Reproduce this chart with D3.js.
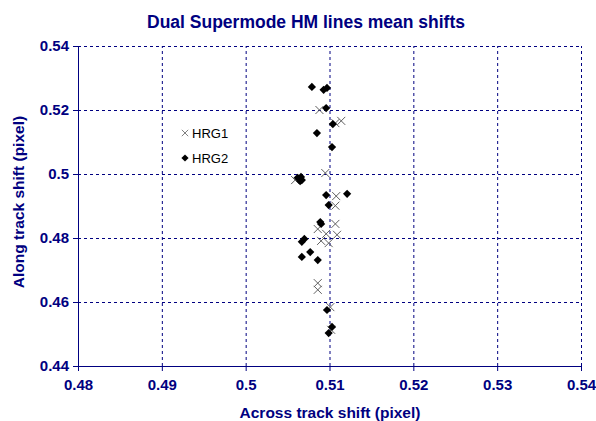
<!DOCTYPE html>
<meta charset="utf-8">
<head>
    <title>Dual Supermode HM lines mean shifts</title>
    <script src="https://cdn.jsdelivr.net/npm/d3@7"></script>
    <style>
        body { margin: 0; background: #fff; }
        text { font-family: Arial, "Liberation Sans", sans-serif; }
        .axis text { font-size: 15px; font-weight: bold; fill: #000080; }
        .axis path, .axis line { stroke: #000080; }
    </style>
</head>
<body>
<div id="chart"></div>
<script>
    // data
    const xTicks = [0.48, 0.49, 0.5, 0.51, 0.52, 0.53, 0.54];
    const yTicks = [0.44, 0.46, 0.48, 0.5, 0.52, 0.54];

    // HRG1 (crosses): [across, along]
    const hrg1 = [
        [0.5088, 0.5200], [0.5107, 0.5159], [0.5114, 0.5166],
        [0.5095, 0.5003], [0.5059, 0.4981], [0.5108, 0.4931],
        [0.5107, 0.4901], [0.5107, 0.4844], [0.5086, 0.4828],
        [0.5096, 0.4813], [0.5109, 0.4810], [0.5090, 0.4791],
        [0.5099, 0.4784], [0.5086, 0.4659], [0.5086, 0.4638],
        [0.5101, 0.4584], [0.5102, 0.4513]
    ];
    // HRG2 (diamonds)
    const hrg2 = [
        [0.5079, 0.5272], [0.5093, 0.5263], [0.5097, 0.5269],
        [0.5096, 0.5206], [0.5104, 0.5156], [0.5085, 0.5128],
        [0.5103, 0.5084], [0.5062, 0.4988], [0.5066, 0.4991],
        [0.5067, 0.4981], [0.5065, 0.4978], [0.5096, 0.4934],
        [0.5121, 0.4938], [0.5099, 0.4903], [0.5089, 0.4850],
        [0.5090, 0.4844], [0.5070, 0.4797], [0.5067, 0.4788],
        [0.5077, 0.4756], [0.5067, 0.4741], [0.5086, 0.4731],
        [0.5097, 0.4575], [0.5103, 0.4522], [0.5099, 0.4503]
    ];

    const width = 596;
    const height = 421;
    const margin = { top: 46, right: 15, bottom: 55, left: 78 };

    const svg = d3.select("#chart").append("svg")
        .attr("width", width)
        .attr("height", height);

    const x = d3.scaleLinear().domain([0.48, 0.54]).range([margin.left, width - margin.right]);
    const y = d3.scaleLinear().domain([0.44, 0.54]).range([height - margin.bottom, margin.top]);

    // dashed grid
    const grid = svg.append("g").attr("stroke", "#000080").attr("stroke-dasharray", "3,3");
    grid.selectAll(".gx").data(xTicks.slice(1)).enter().append("line")
        .attr("x1", d => x(d) + 0.5).attr("x2", d => x(d) + 0.5)
        .attr("y1", y(0.44)).attr("y2", y(0.54));
    grid.selectAll(".gy").data(yTicks.slice(1)).enter().append("line")
        .attr("x1", x(0.48)).attr("x2", x(0.54))
        .attr("y1", d => y(d) + 0.5).attr("y2", d => y(d) + 0.5);

    // axes
    svg.append("g")
        .attr("class", "axis")
        .attr("transform", "translate(0," + y(0.44) + ")")
        .call(d3.axisBottom(x).tickValues(xTicks).tickFormat(d3.format("")).tickSize(5).tickSizeOuter(0))
        .call(g => g.selectAll("text").attr("dy", "1.05em"));

    svg.append("g")
        .attr("class", "axis")
        .attr("transform", "translate(" + x(0.48) + ",0)")
        .call(d3.axisLeft(y).tickValues(yTicks).tickFormat(d3.format("")).tickSize(5).tickSizeOuter(0))
        .call(g => g.selectAll("text").attr("x", -9));

    // HRG1 crosses
    const cross = "M-4,-4L4,4M-4,4L4,-4";
    svg.append("g").selectAll("path").data(hrg1).enter().append("path")
        .attr("d", cross)
        .attr("transform", d => "translate(" + x(d[0]) + "," + y(d[1]) + ")")
        .attr("fill", "none").attr("stroke", "#606060").attr("stroke-width", 1);

    // HRG2 diamonds
    const diamond = d3.symbol().type(d3.symbolSquare).size(34);
    svg.append("g").selectAll("path").data(hrg2).enter().append("path")
        .attr("d", diamond)
        .attr("transform", d => "translate(" + x(d[0]) + "," + y(d[1]) + ") rotate(45)")
        .attr("fill", "#000");

    // legend
    const legend = svg.append("g");
    legend.append("path").attr("d", cross)
        .attr("transform", "translate(185,133) scale(0.8)")
        .attr("fill", "none").attr("stroke", "#606060");
    legend.append("text").attr("x", 192).attr("y", 138).attr("font-size", 13).text("HRG1");
    legend.append("path").attr("d", d3.symbol().type(d3.symbolSquare).size(26))
        .attr("transform", "translate(185,158) rotate(45)").attr("fill", "#000");
    legend.append("text").attr("x", 192).attr("y", 163).attr("font-size", 13).text("HRG2");

    // titles
    svg.append("text")
        .attr("x", 306).attr("y", 28)
        .attr("text-anchor", "middle")
        .attr("font-size", 17.5).attr("font-weight", "bold").attr("fill", "#000080")
        .text("Dual Supermode HM lines mean shifts");

    svg.append("text")
        .attr("x", 330).attr("y", 418)
        .attr("text-anchor", "middle")
        .attr("font-size", 15.5).attr("font-weight", "bold").attr("fill", "#000080")
        .text("Across track shift (pixel)");

    svg.append("text")
        .attr("transform", "translate(24,202) rotate(-90)")
        .attr("text-anchor", "middle")
        .attr("font-size", 15.5).attr("font-weight", "bold").attr("fill", "#000080")
        .text("Along track shift (pixel)");
</script>
</body>
</html>
